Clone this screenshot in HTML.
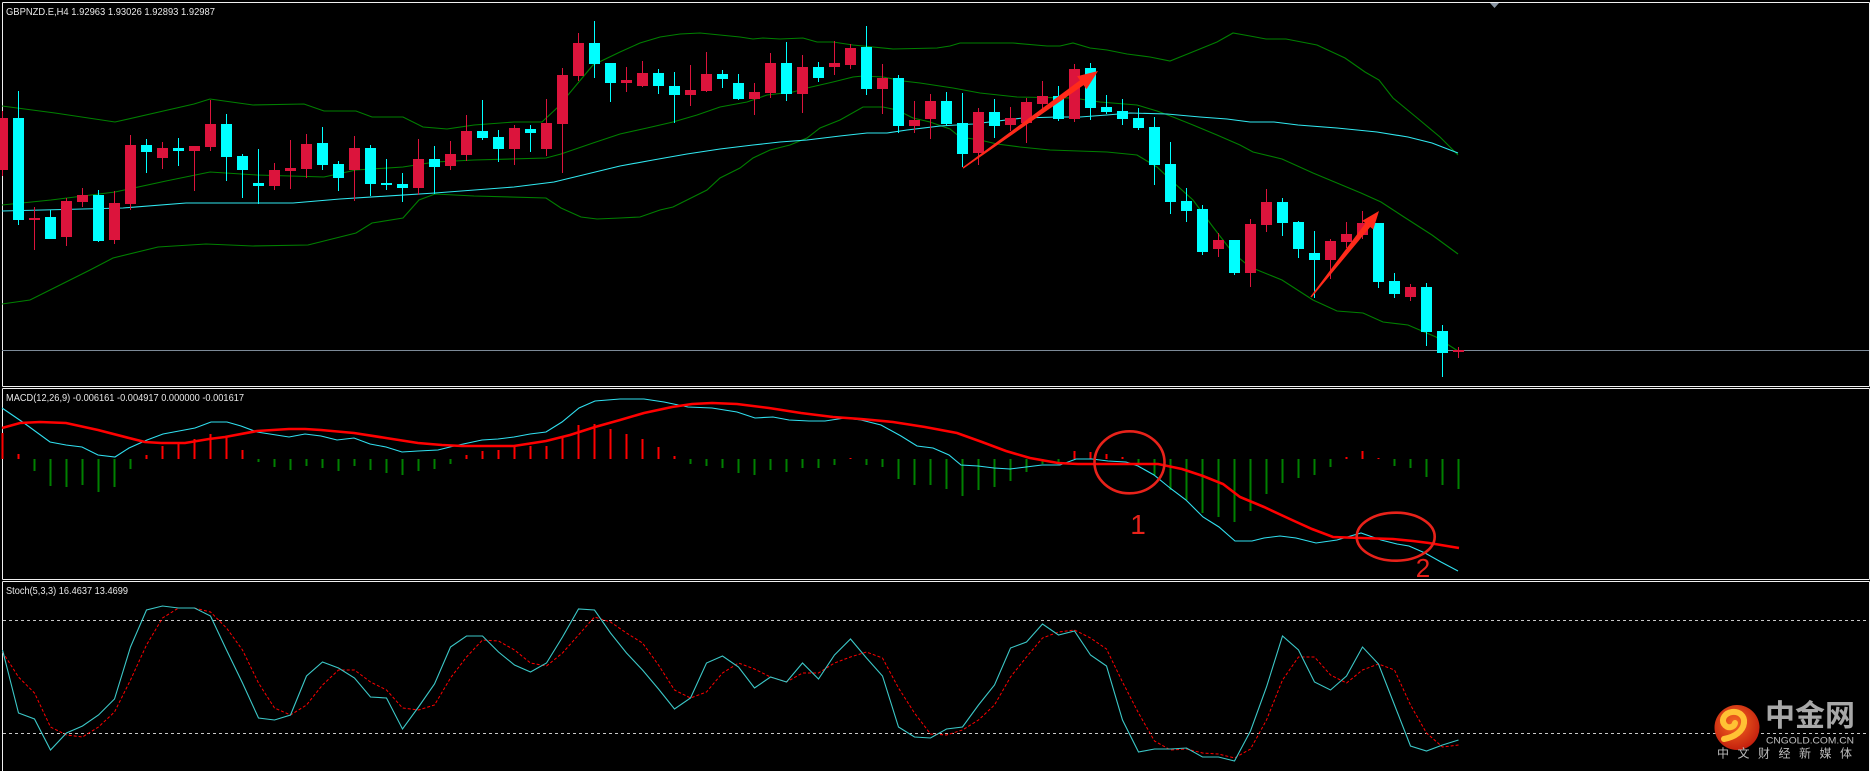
<!DOCTYPE html>
<html><head><meta charset="utf-8"><style>
html,body{margin:0;padding:0;background:#000;}
svg{display:block;}
text{font-family:"Liberation Sans","Noto Sans CJK SC",sans-serif;}
</style></head><body>
<svg width="1870" height="771" viewBox="0 0 1870 771" xmlns="http://www.w3.org/2000/svg">
<rect x="0" y="0" width="1870" height="771" fill="#000"/>
<g fill="none" stroke="#f0f0f0" stroke-width="1" shape-rendering="crispEdges">
<path d="M2.5 2.5H1869.5M2.5 2.5V386.5M1869.5 2.5V386.5M2.5 386.5H1869.5"/>
<path d="M2.5 388.5H1869.5M2.5 388.5V579.5M1869.5 388.5V579.5M2.5 579.5H1869.5"/>
<path d="M2.5 581.5H1869.5M2.5 581.5V771M1869.5 581.5V771"/>
</g>
<polygon points="1490,3 1499,3 1494.5,8" fill="#8a96a4"/>
<text x="6" y="15" font-size="10.5" fill="#e8e8e8" textLength="209" lengthAdjust="spacingAndGlyphs">GBPNZD.E,H4  1.92963 1.93026 1.92893 1.92987</text>
<g fill="none" stroke-width="1.1">
<polyline stroke="#008000" points="2,106 55,113 115,122 194,104 210,99 253,105 304,104 324,111 356,111 372,117 403,117 423,127 447,129 474,125 514,122 542,122 558,107 593,65 620,52 640,43 660,37 680,34 700,33 720,35 740,37 753,39 763,38 780,39 803,38 817,42 833,42 853,45 873,47 893,49 937,48 950,46 960,43 1013,43 1047,46 1060,46 1073,43 1090,48 1107,50 1127,54 1150,57 1170,61 1190,53 1217,42 1233,33 1250,36 1266,39 1286,39 1317,45 1345,58 1365,72 1379,80 1393,98 1416,117 1440,137 1458,155"/>
<polyline stroke="#008000" points="2,205 51,200 115,192 166,181 210,172 257,175 324,177 356,170 403,167 435,162 474,160 546,158 561,154 593,143 620,134 647,128 673,122 697,115 720,107 747,102 767,95 793,92 807,88 833,82 853,77 863,76 883,77 903,81 920,83 953,88 980,93 1017,97 1073,98 1100,102 1137,105 1157,111 1173,117 1193,125 1217,135 1240,145 1253,152 1282,159 1313,173 1361,193 1381,202 1404,217 1432,235 1458,254"/>
<polyline stroke="#008000" points="2,304 30,300 60,285 90,270 113,258 158,247 206,244 253,246 308,245 356,233 372,223 403,218 419,200 435,194 474,196 546,198 561,208 581,217 597,219 620,218 640,217 660,210 673,207 693,197 707,190 720,178 740,168 753,158 770,150 790,145 807,138 820,128 840,120 863,107 883,107 897,110 913,118 930,122 950,129 960,137 980,140 997,144 1020,147 1050,150 1107,152 1137,155 1157,167 1173,182 1193,200 1213,227 1233,253 1250,267 1282,280 1313,300 1337,311 1363,313 1383,322 1408,325 1436,337 1458,351"/>
<polyline stroke="#30e8f0" points="2,211 123,208 186,203 293,203 340,199 435,193 514,187 554,182 620,166 653,160 687,154 720,149 753,145 780,142 807,140 840,136 867,133 887,133 907,130 940,126 973,124 1023,118 1057,117 1080,117 1107,115 1130,113 1167,114 1200,117 1227,119 1250,122 1274,122 1298,125 1337,128 1377,132 1408,137 1432,143 1458,153"/>
</g>
<path d="M2 350.5H1869" stroke="#7c8a98" stroke-width="1" shape-rendering="crispEdges"/>
<g shape-rendering="crispEdges">
<path stroke="#dc143c" stroke-width="1" fill="none" d="M2.5 111V176M34.5 207V250M66.5 198V246M82.5 188V207M114.5 191V244M130.5 135V210M162.5 142V169M194.5 146V191M210.5 100V151M274.5 163V190M290.5 140V189M306.5 134V178M354.5 136V201M418.5 139V195M450.5 141V170M466.5 115V161M514.5 125V165M546.5 99V156M562.5 68V173M578.5 33V81M626.5 67V92M642.5 61V87M690.5 65V106M706.5 52V92M754.5 83V115M770.5 53V98M802.5 55V113M834.5 41V75M850.5 44V69M882.5 64V114M914.5 101V133M930.5 94V139M978.5 108V165M1010.5 107V131M1026.5 98V143M1042.5 81V110M1074.5 64V122M1218.5 233V257M1250.5 219V287M1266.5 189V232M1330.5 239V279M1346.5 222V248M1362.5 211V239M1410.5 284V301M1458.5 347V358"/>
<path fill="#dc143c" d="M-3 118h11v52h-11zM29 218h11v2h-11zM61 201h11v36h-11zM77 195h11v7h-11zM109 203h11v37h-11zM125 145h11v59h-11zM157 148h11v10h-11zM189 146h11v5h-11zM205 124h11v23h-11zM269 170h11v16h-11zM285 168h11v3h-11zM301 144h11v25h-11zM349 148h11v22h-11zM413 159h11v29h-11zM445 154h11v12h-11zM461 131h11v24h-11zM509 128h11v21h-11zM541 123h11v26h-11zM557 75h11v49h-11zM573 43h11v33h-11zM621 80h11v3h-11zM637 73h11v13h-11zM685 90h11v5h-11zM701 74h11v17h-11zM749 92h11v7h-11zM765 63h11v30h-11zM797 67h11v27h-11zM829 63h11v4h-11zM845 48h11v17h-11zM877 78h11v11h-11zM909 120h11v6h-11zM925 101h11v18h-11zM973 112h11v41h-11zM1005 118h11v7h-11zM1021 102h11v21h-11zM1037 96h11v8h-11zM1069 69h11v50h-11zM1213 240h11v9h-11zM1245 224h11v49h-11zM1261 202h11v23h-11zM1325 241h11v19h-11zM1341 234h11v8h-11zM1357 223h11v12h-11zM1405 287h11v10h-11zM1453 350h11v2h-11z"/>
<path stroke="#00ffff" stroke-width="1" fill="none" d="M18.5 91V225M50.5 210V239M98.5 190V242M146.5 139V173M178.5 138V166M226.5 114V181M242.5 154V198M258.5 149V204M322.5 127V170M338.5 161V191M370.5 145V196M386.5 159V190M402.5 173V202M434.5 146V194M482.5 100V140M498.5 130V162M530.5 125V152M594.5 21V78M610.5 63V102M658.5 69V94M674.5 72V123M722.5 70V88M738.5 74V100M786.5 42V101M818.5 62V82M866.5 26V95M898.5 75V133M946.5 92V126M962.5 93V167M994.5 99V138M1058.5 86V121M1090.5 63V120M1106.5 95V114M1122.5 99V125M1138.5 108V130M1154.5 117V185M1170.5 142V214M1186.5 188V222M1202.5 205V255M1234.5 240V275M1282.5 198V236M1298.5 221V258M1314.5 231V298M1378.5 223V288M1394.5 273V298M1426.5 283V346M1442.5 325V377"/>
<path fill="#00ffff" d="M13 118h11v102h-11zM45 217h11v22h-11zM93 195h11v46h-11zM141 145h11v7h-11zM173 148h11v3h-11zM221 124h11v33h-11zM237 156h11v14h-11zM253 183h11v3h-11zM317 143h11v22h-11zM333 164h11v14h-11zM365 148h11v36h-11zM381 183h11v2h-11zM397 184h11v4h-11zM429 159h11v8h-11zM477 131h11v7h-11zM493 137h11v12h-11zM525 129h11v4h-11zM589 43h11v21h-11zM605 63h11v20h-11zM653 73h11v13h-11zM669 86h11v9h-11zM717 74h11v5h-11zM733 83h11v16h-11zM781 63h11v31h-11zM813 67h11v11h-11zM861 47h11v42h-11zM893 78h11v48h-11zM941 101h11v23h-11zM957 123h11v31h-11zM989 112h11v14h-11zM1053 96h11v23h-11zM1085 68h11v40h-11zM1101 107h11v5h-11zM1117 111h11v8h-11zM1133 118h11v10h-11zM1149 127h11v38h-11zM1165 164h11v38h-11zM1181 201h11v10h-11zM1197 209h11v43h-11zM1229 240h11v33h-11zM1277 202h11v21h-11zM1293 222h11v27h-11zM1309 253h11v7h-11zM1373 223h11v59h-11zM1389 281h11v13h-11zM1421 287h11v45h-11zM1437 331h11v22h-11z"/>
</g>
<polygon fill="#ff2a1a" points="963.4,168.6 1083.6,85.1 1086.5,89.2 1098,71 1077.1,76.2 1080.0,80.3 962.6,167.4"/>
<polygon fill="#ff2a1a" points="1311.6,297.4 1370.2,227.0 1373.3,229.4 1379,211 1362.3,220.8 1365.4,223.2 1310.4,296.6"/>
<text x="6" y="401" font-size="10.5" fill="#e8e8e8" textLength="238" lengthAdjust="spacingAndGlyphs">MACD(12,26,9) -0.006161 -0.004917 0.000000 -0.001617</text>
<path shape-rendering="crispEdges" stroke="#ff0000" stroke-width="2" fill="none" d="M2.5 459V433M18.5 459V454M146.5 459V455M162.5 459V446M178.5 459V442M194.5 459V439M210.5 459V434M226.5 459V436M242.5 459V450M466.5 459V455M482.5 459V451M498.5 459V450M514.5 459V446M530.5 459V446M546.5 459V446M562.5 459V436M578.5 459V425M594.5 459V424M610.5 459V429M626.5 459V434M642.5 459V439M658.5 459V447M674.5 459V456M850.5 459V458M1074.5 459V451M1090.5 459V452M1106.5 459V454M1122.5 459V457M1346.5 459V457M1362.5 459V451M1378.5 459V458"/>
<path shape-rendering="crispEdges" stroke="#008000" stroke-width="2" fill="none" d="M34.5 459V471M50.5 459V486M66.5 459V487M82.5 459V485M98.5 459V492M114.5 459V487M130.5 459V469M258.5 459V462M274.5 459V467M290.5 459V470M306.5 459V466M322.5 459V468M338.5 459V471M354.5 459V466M370.5 459V470M386.5 459V473M402.5 459V475M418.5 459V471M434.5 459V469M450.5 459V464M690.5 459V464M706.5 459V466M722.5 459V468M738.5 459V473M754.5 459V475M770.5 459V470M786.5 459V472M802.5 459V468M818.5 459V468M834.5 459V465M866.5 459V465M882.5 459V467M898.5 459V479M914.5 459V485M930.5 459V485M946.5 459V489M962.5 459V496M978.5 459V490M994.5 459V487M1010.5 459V481M1026.5 459V472M1042.5 459V464M1058.5 459V464M1138.5 459V463M1154.5 459V475M1170.5 459V490M1186.5 459V500M1202.5 459V513M1218.5 459V517M1234.5 459V522M1250.5 459V511M1266.5 459V494M1282.5 459V483M1298.5 459V478M1314.5 459V475M1330.5 459V467M1394.5 459V466M1410.5 459V468M1426.5 459V477M1442.5 459V485M1458.5 459V489"/>
<polyline fill="none" stroke="#30e0f0" stroke-width="1.1" points="2,408 24,423 50,442 66,445 82,447 98,455 115,457 129,448 147,440 163,434 179,431 195,428 211,422 227,422 241,426 257,432 289,437 305,434 321,436 337,440 354,438 370,444 386,447 402,452 418,451 438,450 454,446 482,440 498,439 514,437 530,434 546,432 562,422 579,408 595,401 620,399 644,399 664,402 688,407 712,408 737,412 755,418 773,417 789,420 809,421 825,421 845,418 861,420 881,425 901,436 917,446 933,448 949,455 961,465 978,466 994,468 1010,469 1026,467 1042,465 1060,465 1076,459 1092,459 1108,461 1126,462 1138,466 1154,475 1170,488 1186,500 1203,517 1219,527 1235,541 1252,541 1264,538 1280,536 1296,538 1316,543 1337,540 1361,533 1381,540 1397,544 1409,546 1425,553 1441,562 1458,571"/>
<polyline fill="none" stroke="#ff0000" stroke-width="2.6" points="2,428 20,423 40,422 66,423 98,430 129,438 145,442 161,443 185,443 209,439 225,437 257,431 289,429 305,429 321,430 354,433 386,438 418,443 442,445 462,446 514,446 546,441 570,435 595,427 620,420 644,413 672,407 692,404 712,403 737,404 769,408 801,413 833,417 861,419 893,422 925,427 957,433 982,442 1006,451 1030,458 1058,463 1078,464 1158,464 1182,469 1203,476 1223,484 1240,497 1264,507 1292,520 1312,529 1333,537 1361,538 1393,539 1413,541 1429,543 1459,548"/>
<ellipse cx="1129.5" cy="462.3" rx="35" ry="31" fill="none" stroke="#e8221a" stroke-width="2.6"/>
<text x="1138" y="534" font-size="28" fill="#e8221a" text-anchor="middle">1</text>
<ellipse cx="1395.7" cy="536.7" rx="39" ry="24" fill="none" stroke="#e8221a" stroke-width="2.6"/>
<text x="1423" y="577" font-size="26" fill="#e8221a" text-anchor="middle">2</text>
<text x="6" y="594" font-size="10.5" fill="#e8e8e8" textLength="122" lengthAdjust="spacingAndGlyphs">Stoch(5,3,3) 16.4637 13.4699</text>
<path d="M3 620.5H1869M3 733.5H1869" stroke="#c8c8c8" stroke-width="1" stroke-dasharray="3,3" shape-rendering="crispEdges"/>
<polyline fill="none" stroke="#ff0000" stroke-width="1" stroke-dasharray="3,2" points="2.5,652 18.5,677 34.5,693 50.5,727 66.5,735 82.5,737 98.5,727 114.5,712 130.5,680 146.5,645 162.5,618 178.5,608 194.5,608 210.5,612 226.5,628 242.5,650 258.5,683 274.5,708 290.5,715 306.5,705 322.5,685 338.5,670 354.5,670 370.5,682 386.5,690 402.5,708 418.5,710 434.5,705 450.5,678 466.5,657 482.5,640 498.5,641 514.5,650 530.5,663 546.5,666 562.5,653 578.5,635 594.5,617 610.5,622 626.5,633 642.5,643 658.5,665 674.5,690 690.5,698 706.5,692 722.5,673 738.5,663 754.5,669 770.5,677 786.5,682 802.5,673 818.5,673 834.5,663 850.5,657 866.5,652 882.5,658 898.5,688 914.5,713 930.5,734 946.5,735 962.5,730 978.5,720 994.5,705 1010.5,677 1026.5,657 1042.5,638 1058.5,632 1074.5,630 1090.5,638 1106.5,649 1122.5,682 1138.5,713 1154.5,741 1170.5,750 1186.5,749 1202.5,753 1218.5,754 1234.5,758 1250.5,749 1266.5,720 1282.5,680 1298.5,657 1314.5,657 1330.5,675 1346.5,683 1362.5,670 1378.5,664 1394.5,670 1410.5,705 1426.5,733 1442.5,747 1458.5,745"/>
<polyline fill="none" stroke="#3cc8c8" stroke-width="1.1" points="2.5,650 18.5,713 34.5,719 50.5,750 66.5,733 82.5,726 98.5,715 114.5,699 130.5,647 146.5,610 162.5,606 178.5,608 194.5,608 210.5,616 226.5,650 242.5,683 258.5,718 274.5,720 290.5,715 306.5,676 322.5,662 338.5,668 354.5,678 370.5,697 386.5,698 402.5,729 418.5,707 434.5,684 450.5,647 466.5,636 482.5,636 498.5,652 514.5,665 530.5,672 546.5,663 562.5,637 578.5,609 594.5,610 610.5,633 626.5,653 642.5,670 658.5,689 674.5,709 690.5,698 706.5,663 722.5,656 738.5,667 754.5,688 770.5,677 786.5,682 802.5,663 818.5,679 834.5,655 850.5,639 866.5,658 882.5,676 898.5,727 914.5,737 930.5,738 946.5,729 962.5,727 978.5,705 994.5,685 1010.5,648 1026.5,642 1042.5,624 1058.5,635 1074.5,631 1090.5,655 1106.5,666 1122.5,720 1138.5,752 1154.5,749 1170.5,749 1186.5,748 1202.5,757 1218.5,757 1234.5,761 1250.5,731 1266.5,687 1282.5,636 1298.5,650 1314.5,682 1330.5,690 1346.5,676 1362.5,647 1378.5,664 1394.5,705 1410.5,746 1426.5,751 1442.5,745 1458.5,740"/>
<defs>
<radialGradient id="lg" cx="0.45" cy="0.4" r="0.6">
<stop offset="0" stop-color="#f56a22"/>
<stop offset="1" stop-color="#c4200e"/>
</radialGradient>
</defs>
<circle cx="1737" cy="727.5" r="22.5" fill="url(#lg)"/>
<path d="M1724,739 C1735,737 1743,731 1744,723 C1745,716 1739,711 1732,712 C1725,713 1721,719 1724,724 C1727,729 1734,728 1735,723" stroke="#ffc234" stroke-width="6" fill="none" stroke-linecap="round"/>
<text x="1765" y="726" font-size="30" font-weight="bold" fill="#a8a8a8" style="font-family:'Noto Sans CJK SC','WenQuanYi Zen Hei',sans-serif" textLength="90" lengthAdjust="spacingAndGlyphs">中金网</text>
<text x="1766" y="743.5" font-size="9" fill="#c0c0c0" textLength="88" lengthAdjust="spacingAndGlyphs">CNGOLD.COM.CN</text>
<text x="1717" y="757.5" font-size="12" fill="#bcbcbc" style="font-family:'Noto Sans CJK SC','WenQuanYi Zen Hei',sans-serif" textLength="135" lengthAdjust="spacing">中文财经新媒体</text>
</svg>
</body></html>
